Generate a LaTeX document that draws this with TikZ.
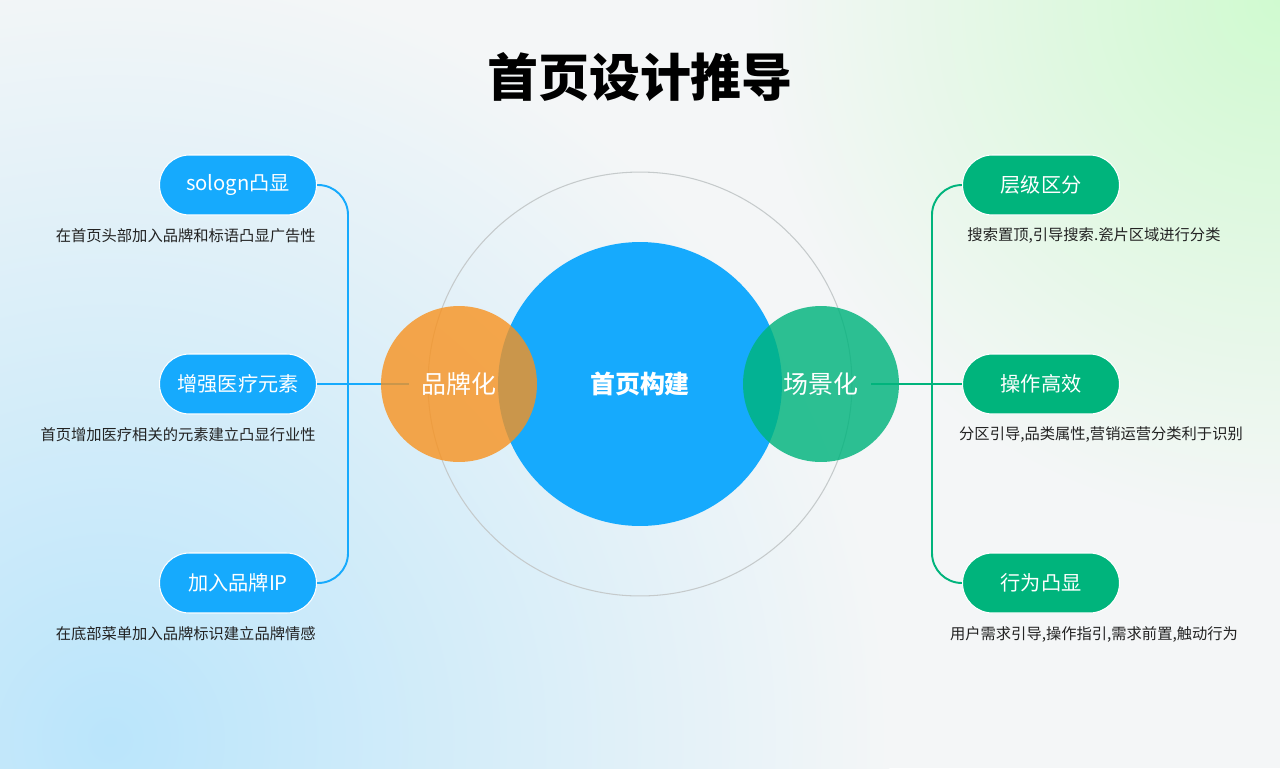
\documentclass[tikz,border=0pt]{standalone}
\usepackage{fontspec}
\setmainfont{Noto Sans CJK SC}
\usetikzlibrary{calc}
\usetikzlibrary{positioning}

\definecolor{paper}{HTML}{F4F6F7}
\definecolor{glowb}{HTML}{BAE5FB}
\definecolor{glowg}{HTML}{D0FAD0}
\definecolor{skyblue}{HTML}{16AAFD}
\definecolor{leafgreen}{HTML}{00B47C}
\definecolor{brandorange}{HTML}{F8921F}
\definecolor{ringgray}{HTML}{C5CACB}
\definecolor{ink}{HTML}{222222}

\pgfdeclareradialshading{glowblue}{\pgfpoint{0bp}{0bp}}{color(0bp)=(glowb); color(25bp)=(paper); color(50bp)=(paper)}
\pgfdeclareradialshading{glowgreen}{\pgfpoint{0bp}{0bp}}{color(0bp)=(glowg); color(25bp)=(paper); color(50bp)=(paper)}

\pgfdeclarelayer{back}
\pgfdeclarelayer{wires}
\pgfsetlayers{back,wires,main}

\begin{document}
\begin{tikzpicture}[x=0.02cm,y=-0.02cm,
    pill/.style={rectangle,draw=white,line width=0.6pt,rounded corners=0.6cm,minimum width=3.14cm,minimum height=1.2cm,text=white,font=\fontsize{11.5}{14}\selectfont},
    bluepill/.style={pill,fill=skyblue},
    greenpill/.style={pill,fill=leafgreen},
    note/.style={text=ink,inner sep=0pt,font=\fontsize{8.7}{11}\selectfont},
    hub/.style={circle,inner sep=0pt,minimum size=3.12cm},
    hubtext/.style={text=white,inner sep=0.25cm,font=\fontsize{14.2}{17}\selectfont},
    wire/.style={line width=1.1pt,rounded corners=0.6cm}]

  \useasboundingbox (0,0) rectangle (1280,768);

  \begin{pgfonlayer}{back}
    \fill [paper] (0,0) rectangle (1280,768);
    \begin{scope}
      \clip (0,0) rectangle (1280,768);
      \shade [shading=glowblue] (110,740) circle (15.6cm);
      \shade [shading=glowgreen] (1280,0) circle (10.6cm);
    \end{scope}
  \end{pgfonlayer}

  \node [font=\fontsize{29}{34}\selectfont\bfseries,text=black] (title) at (640,77) {首页设计推导};

  \node [hub,minimum size=5.68cm,fill=skyblue] (core) at (640,384) {};
  \node [hub,fill=brandorange,fill opacity=0.8] (brand) at (459,384) {};
  \node [hub,fill=leafgreen,fill opacity=0.82] (scene) at (821,384) {};

  \node [hubtext,font=\fontsize{14.2}{17}\selectfont\bfseries] (coretxt) at (core.center) {首页构建};
  \node [hubtext] (brandtxt) at (brand.center) {品牌化};
  \node [hubtext] (scenetxt) at (scene.center) {场景化};

  \node [bluepill] (slogan) at (238,185) {sologn凸显};
  \node [bluepill] (medical) at (238,384) {增强医疗元素};
  \node [bluepill] (brandip) at (238,583) {加入品牌IP};

  \node [note,anchor=east] (slogannote) at (316,236) {在首页头部加入品牌和标语凸显广告性};
  \node [note,anchor=east] (medicalnote) at (316,435) {首页增加医疗相关的元素建立凸显行业性};
  \node [note,anchor=east] (brandipnote) at (316,634) {在底部菜单加入品牌标识建立品牌情感};

  \node [greenpill] (level) at (1041,185) {层级区分};
  \node [greenpill] (operate) at (1041,384) {操作高效};
  \node [greenpill] (behave) at (1041,583) {行为凸显};

  \node [note] (levelnote) at (1094,236) {搜索置顶,引导搜索.瓷片区域进行分类};
  \node [note] (operatenote) at (1101,435) {分区引导,品类属性,营销运营分类利于识别};
  \node [note] (behavenote) at (1094,634) {用户需求引导,操作指引,需求前置,触动行为};

  \begin{pgfonlayer}{wires}
    \draw [ringgray,line width=0.6pt] (core.center) circle (4.24cm);

    \draw [wire,skyblue] (slogan.east) -| ($(medical.east)+(31,0)$) |- (brandip.east);
    \draw [wire,skyblue] (medical.east) -- (brandtxt.west);

    \draw [wire,leafgreen] (level.west) -| ($(operate.west)+(-30,0)$) |- (behave.west);
    \draw [wire,leafgreen] (scenetxt.east) -- (operate.west);
  \end{pgfonlayer}

\end{tikzpicture}
\end{document}
